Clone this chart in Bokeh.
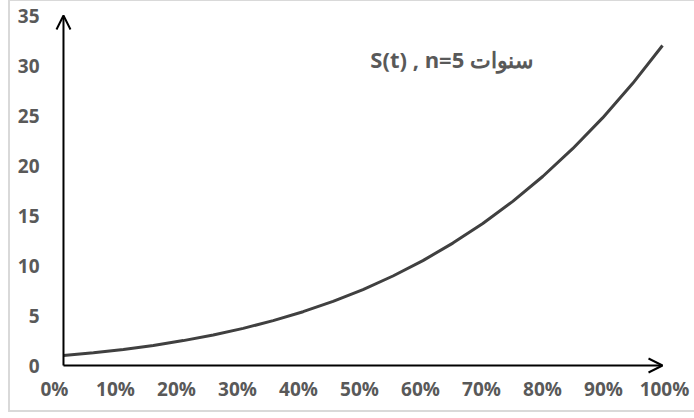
from bokeh.plotting import figure
from bokeh.layouts import column
from bokeh.models import (Range1d, LinearAxis, FixedTicker, Arrow, OpenHead)
from bokeh.core.properties import value
from bokeh.embed import file_html
from bokeh.resources import INLINE

# Data
rates = [0.00, 0.05, 0.10, 0.15, 0.20, 0.25, 0.30, 0.35, 0.40, 0.45, 0.50,
         0.55, 0.60, 0.65, 0.70, 0.75, 0.80, 0.85, 0.90, 0.95, 1.00]
s_values = [1.00, 1.28, 1.61, 2.01, 2.49, 3.05, 3.71, 4.49, 5.38, 6.41, 7.59,
            8.95, 10.49, 12.24, 14.20, 16.41, 18.90, 21.68, 24.76, 28.19, 32.00]
x_ticks = [0.0, 0.1, 0.2, 0.3, 0.4, 0.5, 0.6, 0.7, 0.8, 0.9, 1.0]
x_tick_labels = ["0%", "10%", "20%", "30%", "40%", "50%", "60%", "70%", "80%", "90%", "100%"]
y_ticks = [0, 5, 10, 15, 20, 25, 30, 35]
label_text = "S(t) , n=5 سنوات"

GRAY = "#595959"
FONT = "Open Sans"

p = figure(width=684, height=409, output_backend="svg", toolbar_location=None,
           x_range=Range1d(-0.02, 1.02), y_range=Range1d(-1, 35.5),
           x_axis_location=None, y_axis_location=None,
           min_border_left=41, min_border_right=20, min_border_top=9, min_border_bottom=35,
           background_fill_color="white", border_fill_color="white")
p.outline_line_color = None
p.grid.visible = False

p.extra_x_ranges = {"lab": Range1d(-0.004918, 1.016393)}

xaxis = LinearAxis(x_range_name="lab")
xaxis.ticker = FixedTicker(ticks=x_ticks)
xaxis.major_label_overrides = {t: l for t, l in zip(x_ticks, x_tick_labels)}
yaxis = LinearAxis()
yaxis.ticker = FixedTicker(ticks=y_ticks)
for ax in (xaxis, yaxis):
    ax.axis_line_color = None
    ax.major_tick_line_color = None
    ax.minor_tick_line_color = None
    ax.major_tick_out = 0
    ax.major_tick_in = 0
    ax.minor_tick_out = 0
    ax.minor_tick_in = 0
    ax.major_label_text_color = GRAY
    ax.major_label_text_font = FONT
    ax.major_label_text_font_style = "bold"
    ax.major_label_text_font_size = "19px"
xaxis.major_label_standoff = 0
yaxis.major_label_standoff = 12
p.add_layout(xaxis, "below")
p.add_layout(yaxis, "left")

# axis arrows
p.add_layout(Arrow(end=OpenHead(size=14, line_width=2, line_color="black"),
                   x_start=0, y_start=0, x_end=1.0, y_end=0,
                   line_width=2, line_color="black"))
p.add_layout(Arrow(end=OpenHead(size=14, line_width=2, line_color="black"),
                   x_start=0, y_start=0, x_end=0, y_end=35,
                   line_width=2, line_color="black"))

p.line(rates, s_values, line_color="#404040", line_width=3)

p.text(x=[0.648], y=[30.7], text=[label_text], text_align="center",
       text_baseline="middle", text_color=GRAY, text_font=value(FONT),
       text_font_style="bold", text_font_size="22px")

layout = column(p, styles={"margin-left": "8px",
                           "border-left": "2px solid #d9d9d9",
                           "border-top": "1px solid #d9d9d9",
                           "border-bottom": "2px solid #d9d9d9"})

open("out.html", "w").write(file_html(layout, INLINE))
